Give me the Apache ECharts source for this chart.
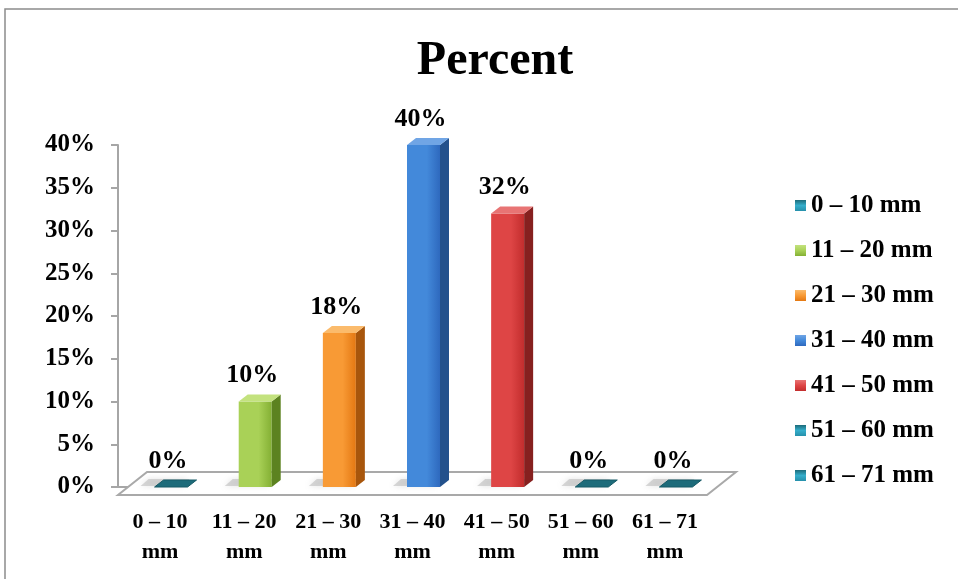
<!DOCTYPE html>
<html>
<head>
<meta charset="utf-8">
<script src="https://cdn.jsdelivr.net/npm/echarts@6/dist/echarts.min.js"></script>
<style>
  html, body { margin: 0; padding: 0; background: #fff; }
  #chart { width: 958px; height: 579px; }
</style>
</head>
<body>
<div id="chart"></div>
<script>
// data
const seriesNames = ['0 – 10 mm', '11 – 20 mm', '21 – 30 mm', '31 – 40 mm', '41 – 50 mm', '51 – 60 mm', '61 – 71 mm']
const tickLabels = ['0 – 10\nmm', '11 – 20\nmm', '21 – 30\nmm', '31 – 40\nmm', '41 – 50\nmm', '51 – 60\nmm', '61 – 71\nmm']
const percents = [0, 10, 18, 40, 32, 0, 0]
const yMin = 0, yMax = 40, yStep = 5

// colours per bar: front light, front dark, side, top
const palette = [
  ['#35aecb', '#2690ab', '#1b6a7d', '#1d6b7a'],
  ['#a9d157', '#84b034', '#5c8220', '#c3e27e'],
  ['#f89a35', '#e47812', '#a8560c', '#fbbb6c'],
  ['#4389da', '#2e69be', '#23518c', '#70a5e5'],
  ['#de4545', '#c22d2d', '#86201f', '#e87474'],
  ['#35aecb', '#2690ab', '#1b6a7d', '#1d6b7a'],
  ['#35aecb', '#2690ab', '#1b6a7d', '#1d6b7a']
]

const font = '"Liberation Serif", "Times New Roman", serif'
const chart = echarts.init(document.getElementById('chart'))

const barW = 33, depX = 9, depY = -7, shift = 11

// 3D box for one category
const renderBox = (i) => (params, api) => {
  const v = api.value(1)
  const base = api.coord([api.value(0), 0])
  const top = api.coord([api.value(0), v])
  const c = palette[i]
  const cx = base[0] + shift
  const x = cx - barW / 2
  const children = []
  // soft shadow on the floor
  children.push({
    type: 'polygon',
    shape: { points: [[x - 14, base[1] - 1], [x + barW - 4, base[1] - 1], [x + barW + 2, base[1] - 8], [x - 6, base[1] - 8]] },
    style: { fill: 'rgba(170,170,170,0.45)', shadowBlur: 6, shadowColor: 'rgba(150,150,150,0.6)' },
    silent: true
  })
  if (v > 0) {
    children.push({
      type: 'rect',
      shape: { x: x, y: top[1], width: barW, height: base[1] - top[1] },
      style: {
        fill: new echarts.graphic.LinearGradient(0, 0, 1, 0, [
          { offset: 0, color: c[0] }, { offset: 0.6, color: c[0] }, { offset: 1, color: c[1] }
        ])
      }
    })
    children.push({
      type: 'polygon',
      shape: { points: [[x + barW, top[1]], [x + barW + depX, top[1] + depY], [x + barW + depX, base[1] + depY], [x + barW, base[1]]] },
      style: { fill: c[2] }
    })
    children.push({
      type: 'polygon',
      shape: { points: [[x, top[1]], [x + depX, top[1] + depY], [x + barW + depX, top[1] + depY], [x + barW, top[1]]] },
      style: { fill: c[3] }
    })
  } else {
    children.push({
      type: 'polygon',
      shape: { points: [[x, base[1]], [x + barW, base[1]], [x + barW + depX, base[1] + depY], [x + depX, base[1] + depY]] },
      style: { fill: c[3], stroke: '#175a66', lineWidth: 1 }
    })
  }
  children.push({
    type: 'text',
    style: {
      text: v + '%', x: cx - 3, y: top[1] - 13,
      align: 'center', verticalAlign: 'bottom',
      fontFamily: font, fontWeight: 'bold', fontSize: 26, fill: '#000'
    }
  })
  return { type: 'group', children: children }
}

// floor of the 3D plot, from the grid's own box
const renderFloor = (params, api) => {
  const cs = params.coordSys
  const yf = cs.y + cs.height + 8
  const yb = cs.y + cs.height - 15
  const dx = 29
  return {
    type: 'polygon',
    shape: { points: [[cs.x, yf], [cs.x + cs.width, yf], [cs.x + cs.width + dx, yb], [cs.x + dx, yb]] },
    style: { fill: '#fff', stroke: '#a9a9a9', lineWidth: 2 }
  }
}

const series = [{
  type: 'custom',
  name: 'floor',
  silent: true,
  renderItem: renderFloor,
  encode: { x: 0, y: 1 },
  data: [[0, 0]]
}]

seriesNames.forEach((name, i) => {
  series.push({
    type: 'custom',
    name: name,
    renderItem: renderBox(i),
    encode: { x: 0, y: 1 },
    itemStyle: {
      color: new echarts.graphic.LinearGradient(0, 0, 0, 1, [
        { offset: 0, color: palette[i][3] }, { offset: 0.5, color: palette[i][0] }, { offset: 1, color: palette[i][1] }
      ])
    },
    data: [[i, percents[i]]]
  })
})

const option = {
  animation: false,
  title: {
    text: 'Percent',
    left: 490,
    textAlign: 'center',
    top: 33,
    textStyle: { fontFamily: font, fontWeight: 'bold', fontSize: 48, color: '#000' }
  },
  legend: {
    data: seriesNames,
    orient: 'vertical',
    left: 795,
    top: 193,
    icon: 'rect',
    itemWidth: 11,
    itemHeight: 11,
    itemGap: 20,
    padding: 0,
    textStyle: { fontFamily: font, fontWeight: 'bold', fontSize: 25, lineHeight: 24, color: '#000' }
  },
  grid: { left: 118, right: 251, top: 145, bottom: 92 },
  xAxis: {
    type: 'category',
    data: tickLabels,
    offset: 8,
    axisLine: { lineStyle: { color: '#a6a6a6', width: 2 } },
    axisTick: { length: 6, lineStyle: { color: '#a6a6a6', width: 2 } },
    axisLabel: { interval: 0, margin: 12, fontFamily: font, fontWeight: 'bold', fontSize: 22, lineHeight: 30, color: '#000' }
  },
  yAxis: {
    type: 'value',
    min: yMin,
    max: yMax,
    interval: yStep,
    axisLine: { show: true, lineStyle: { color: '#a6a6a6', width: 2 } },
    axisTick: { show: true, length: 7, lineStyle: { color: '#a6a6a6', width: 2 } },
    splitLine: { show: false },
    axisLabel: { formatter: '{value}%', margin: 23, fontFamily: font, fontWeight: 'bold', fontSize: 25, color: '#000' }
  },
  graphic: [{
    type: 'rect',
    shape: { x: 5, y: 9, width: 1000, height: 1000 },
    style: { fill: 'none', stroke: '#8c8c8c', lineWidth: 1.5 },
    silent: true
  }],
  series: series
}

chart.setOption(option)
window.addEventListener('resize', () => { chart && chart.resize() })
</script>
</body>
</html>
